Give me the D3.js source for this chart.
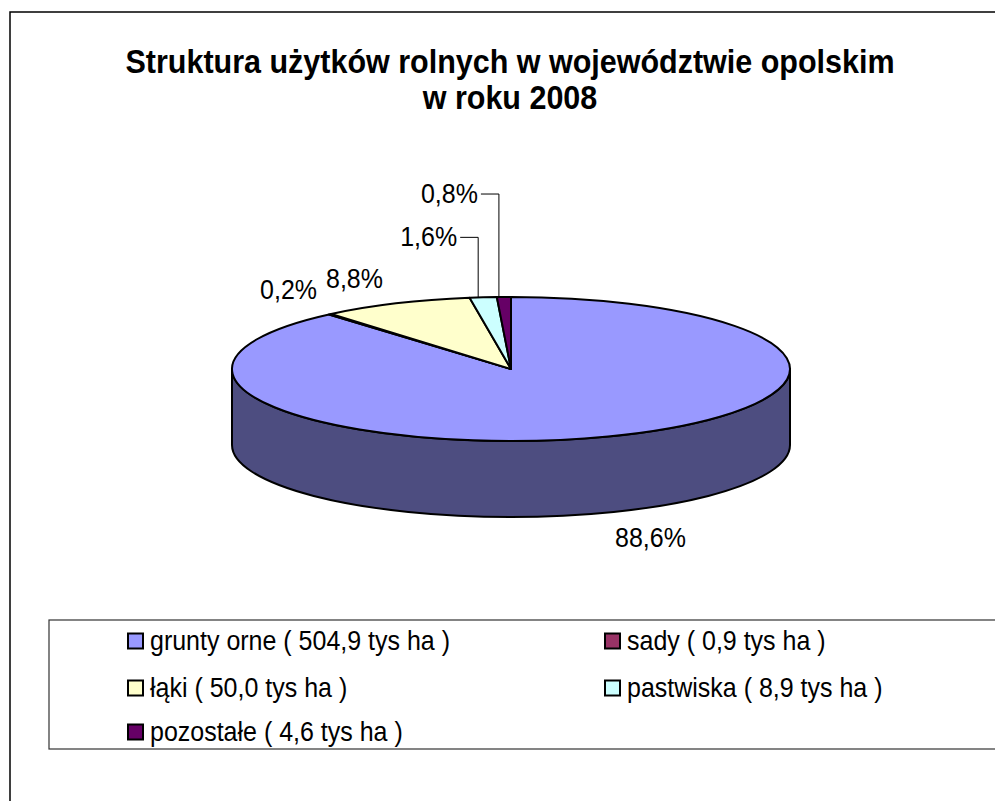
<!DOCTYPE html>
<html>
<head>
<meta charset="utf-8">
<script src="https://cdn.jsdelivr.net/npm/d3@7"></script>
<style>
  html, body { margin: 0; padding: 0; background: #fff; }
  svg { display: block; }
</style>
</head>
<body>
<script>
// ---- data ----
const categories = ["grunty orne", "sady", "łąki", "pastwiska", "pozostałe"];
const values = [504.9, 0.9, 50.0, 8.9, 4.6];
const valueLabels = ["504,9", "0,9", "50,0", "8,9", "4,6"];
const percentLabels = ["88,6%", "0,2%", "8,8%", "1,6%", "0,8%"];
const topColors = ["#9999FF", "#993366", "#FFFFCC", "#CCFFFF", "#660066"];
const titleLines = ["Struktura użytków rolnych w województwie opolskim", "w roku 2008"];
const unitLabel = "tys ha";

// ---- layout ----
const W = 995, H = 801;
const cx = 511, cy = 369, rx = 279, ry = 72, depth = 76;
const font = "'Liberation Sans', Arial, sans-serif";
const SY = 1.1; // vertical stretch of the glyphs, as in the reference

const svg = d3.select("body").append("svg").attr("width", W).attr("height", H);

function addText(g, x, y, str, size, anchor, weight) {
  return g.append("text")
    .attr("transform", `translate(${x},${y}) scale(1,${SY})`)
    .attr("text-anchor", anchor || "start")
    .attr("font-family", font).attr("font-size", size)
    .attr("font-weight", weight || "normal")
    .attr("fill", "#000").text(str);
}

// outer chart border
svg.append("rect").attr("x", 10).attr("y", 12).attr("width", 1100).attr("height", 900)
  .attr("fill", "#fff").attr("stroke", "#000").attr("stroke-width", 1.5);

// title
const gTitle = svg.append("g");
titleLines.forEach((t, i) => addText(gTitle, 510, 73 + i * 36, t, 30.5, "middle", "bold"));

// pie
const color = d3.scaleOrdinal().domain(categories).range(topColors);
const pie = d3.pie().sort(null).startAngle(0).endAngle(2 * Math.PI).value(d => d.v);
const arcs = pie(categories.map((c, i) => ({ c, v: values[i], i })));

const P = (a, dy = 0) => [cx + rx * Math.sin(a), cy - ry * Math.cos(a) + dy];
const fmt = p => p[0].toFixed(2) + "," + p[1].toFixed(2);

const gPie = svg.append("g");

// side walls (front half only: angles between PI/2 and 3PI/2)
arcs.forEach(a => {
  const b0 = Math.max(a.startAngle, Math.PI / 2);
  const b1 = Math.min(a.endAngle, 3 * Math.PI / 2);
  if (b1 <= b0) return;
  const p0 = P(b0), p1 = P(b1), q1 = P(b1, depth), q0 = P(b0, depth);
  const path = `M${fmt(p0)} A${rx},${ry} 0 0 1 ${fmt(p1)} L${fmt(q1)} A${rx},${ry} 0 0 0 ${fmt(q0)} Z`;
  const c = d3.color(color(a.data.c));
  const dark = d3.rgb(c.r * 0.5, c.g * 0.5, c.b * 0.5);
  gPie.append("path").attr("d", path).attr("fill", dark)
    .attr("stroke", "#000").attr("stroke-width", 2).attr("stroke-linejoin", "round");
});

// top faces
arcs.forEach(a => {
  const p0 = P(a.startAngle), p1 = P(a.endAngle);
  const large = (a.endAngle - a.startAngle) > Math.PI ? 1 : 0;
  const path = `M${cx},${cy} L${fmt(p0)} A${rx},${ry} 0 ${large} 1 ${fmt(p1)} Z`;
  gPie.append("path").attr("d", path).attr("fill", color(a.data.c))
    .attr("stroke", "#000").attr("stroke-width", 2).attr("stroke-linejoin", "round");
});

// data labels: per-slice placement rules relative to the slice anchor
const labelLayout = [
  { kind: "front", dx: 7, dy: 34 },
  { kind: "plain", dx: -13, dy: -15 },
  { kind: "plain", dx: -13, dy: -15 },
  { kind: "leader", rise: 60, gap: 21 },
  { kind: "leader", rise: 103, gap: 21 }
];
const gLab = svg.append("g");
arcs.forEach((a, i) => {
  const mid = (a.startAngle + a.endAngle) / 2;
  const L = labelLayout[i];
  const txt = percentLabels[i];
  if (L.kind === "front") {
    const p = P(mid, depth);
    addText(gLab, p[0] + L.dx, p[1] + L.dy, txt, 25, "start");
  } else if (L.kind === "plain") {
    const p = P(mid);
    addText(gLab, p[0] + L.dx, p[1] + L.dy, txt, 25, "end");
  } else {
    const p = P(mid);
    const lx = p[0] - 5;
    const topY = p[1] - L.rise;
    gLab.append("polyline")
      .attr("points", `${lx - L.gap + 3},${topY} ${lx},${topY} ${lx},${p[1]}`)
      .attr("fill", "none").attr("stroke", "#000").attr("stroke-width", 1);
    addText(gLab, lx - L.gap, topY + 9, txt, 25, "end");
  }
});

// legend
const legX = 49, legY = 620, legH = 129;
svg.append("rect").attr("x", legX).attr("y", legY).attr("width", 1100).attr("height", legH)
  .attr("fill", "#fff").attr("stroke", "#333").attr("stroke-width", 1.2);

const colX = [128, 605];
const rowY = [641, 688, 732];
const gLeg = svg.append("g");
categories.forEach((c, i) => {
  const col = i % 2, row = Math.floor(i / 2);
  const x = colX[col], y = rowY[row];
  gLeg.append("rect").attr("x", x).attr("y", y - 7.5).attr("width", 15).attr("height", 15)
    .attr("fill", color(c)).attr("stroke", "#000").attr("stroke-width", 2);
  addText(gLeg, x + 22, y + 9, `${c} ( ${valueLabels[i]} ${unitLabel} )`, 25, "start");
});
</script>
</body>
</html>
